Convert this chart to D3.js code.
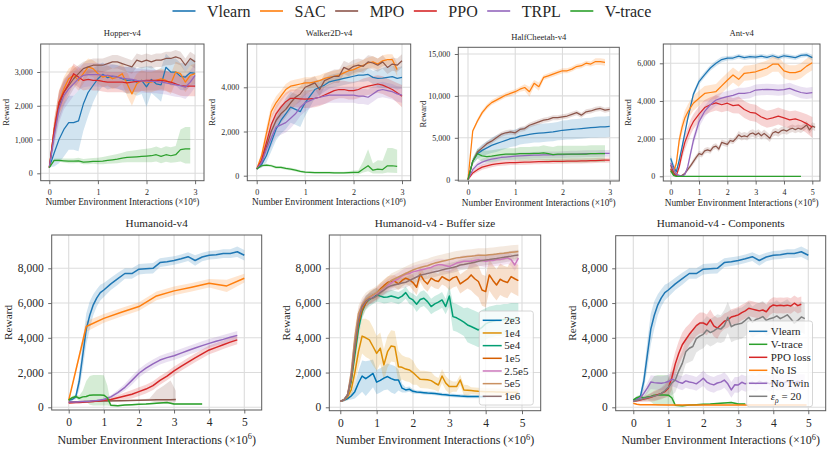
<!DOCTYPE html>
<html><head><meta charset="utf-8">
<script src="https://cdn.jsdelivr.net/npm/d3@7"></script>
<style>
body{margin:0;background:#fff}
svg{display:block}
</style>
</head><body>
<svg id="c" width="830" height="449" font-family="Liberation Serif, serif"></svg>
<script>
// ================= DATA =================
const topNames = ["Vlearn","SAC","MPO","PPO","TRPL","V-trace"];
const topColors = ["#1f77b4","#ff7f0e","#8c564b","#d62728","#9467bd","#2ca02c"];

const steps3M = [0,0.1,0.2,0.3,0.4,0.5,0.6,0.7,0.8,0.9,1,1.1,1.2,1.3,1.4,1.5,1.6,1.7,1.8,1.9,2,2.1,2.2,2.3,2.4,2.5,2.6,2.7,2.8,2.9,3];

// Hopper-v4
const hopperMean = {
  "Vlearn": [170,600,1000,1300,1500,1500,1550,2050,2400,2600,2800,2930,2830,2870,2860,2800,2750,2770,2700,2750,2560,2780,2650,2620,3140,3000,3000,2870,2850,2980,2960],
  "SAC":    [170,1300,2100,2500,2800,2900,2750,2950,3150,3100,2950,2850,2900,2800,2850,2950,2650,2350,2650,2750,2700,2700,2750,2800,2750,2650,3000,2950,2700,2900,2950],
  "MPO":    [170,1200,2000,2400,2600,2800,2950,3100,3150,3200,3200,3200,3250,3300,3300,3250,3200,3150,3350,3300,3350,3300,3350,3350,3400,3400,3450,3400,3200,3400,3300],
  "PPO":    [170,1300,2100,2400,2650,2950,2850,2750,2780,2750,2750,2720,2700,2700,2700,2700,2680,2700,2720,2740,2750,2750,2750,2750,2730,2700,2650,2600,2580,2580,2580],
  "TRPL":   [170,1100,1900,2300,2500,2650,2800,2900,2920,2920,2920,2900,2900,2880,2850,2820,2800,2780,2750,2740,2730,2720,2720,2700,2680,2650,2620,2600,2550,2700,2900],
  "V-trace":[170,380,380,370,360,360,370,330,340,350,350,360,380,400,420,450,470,480,490,500,510,520,550,500,550,520,550,700,720,720,null]
};
const hopperSpread = {
  "Vlearn": [0,400,700,800,800,800,900,800,700,500,400,350,350,350,350,350,400,400,400,400,600,400,400,500,400,400,400,400,400,400,400],
  "SAC":    [0,300,350,350,300,300,300,300,250,250,300,300,300,300,300,300,350,350,300,300,300,300,300,300,300,300,300,300,300,300,300],
  "MPO":    [0,300,400,400,350,300,250,200,200,200,200,200,200,200,200,200,200,200,200,200,200,200,200,200,200,200,200,200,200,200,200],
  "PPO":    [0,300,350,350,300,300,300,300,300,300,300,300,300,300,300,300,300,300,300,300,300,300,300,300,300,300,300,300,300,300,300],
  "TRPL":   [0,300,400,400,400,350,350,350,350,350,350,350,350,350,350,350,350,350,350,350,350,350,350,350,350,350,350,350,350,350,350],
  "V-trace":[0,60,60,70,80,80,90,90,100,100,110,120,130,140,150,160,180,190,200,210,220,230,240,240,250,250,260,600,650,650,null]
};
const hopperLow = {
  "V-trace":[0,40,40,50,60,60,60,60,70,70,80,90,100,110,120,130,140,150,160,170,180,190,200,200,210,210,220,350,430,430,null]
};

// Walker2D-v4
const walkerMean = {
  "Vlearn": [300,500,900,1500,2100,2500,2800,3100,3000,2900,3300,3600,3900,4000,4100,4250,4300,4350,4400,4450,4500,4550,4550,4580,4450,4400,4420,4450,4480,4400,4450],
  "SAC":    [300,900,1900,2900,3300,3600,3900,4050,4100,4150,4200,4200,4250,4300,4400,4450,4500,4550,4650,4750,4800,4900,5000,5100,5150,5050,5200,5250,5250,4800,null],
  "MPO":    [300,600,1300,2000,2500,2800,3000,3300,3550,3700,4000,4100,4200,3900,4300,4400,4500,4500,4900,4800,4950,5000,4950,5150,5100,5000,5150,4900,5050,5000,5200],
  "PPO":    [300,700,1500,2300,2800,3100,3350,3500,3500,3480,3460,3480,3500,3550,3650,3750,3850,3900,3900,3850,3850,3900,4000,4050,4100,4150,4100,4000,3900,3750,3600],
  "TRPL":   [300,600,1200,1700,2200,2300,2400,2600,2800,3100,3300,3400,3500,3550,3600,3650,3650,3650,3650,3650,3650,3600,3600,3550,3700,3850,3900,3850,3800,3700,3650],
  "V-trace":[300,450,480,450,380,380,330,300,250,200,160,150,140,140,140,140,130,130,130,140,150,150,300,450,250,300,280,450,450,420,null]
};
const walkerSpread = {
  "Vlearn": [0,150,300,400,500,600,700,700,700,700,600,500,400,350,300,300,300,300,300,300,300,300,300,300,300,400,450,500,500,500,500],
  "SAC":    [0,200,300,300,300,250,250,250,250,250,250,250,250,250,250,250,250,250,250,250,250,250,250,250,250,250,250,250,250,300,null],
  "MPO":    [0,200,300,400,400,400,350,350,350,350,350,300,300,300,300,300,300,300,300,300,300,300,300,300,300,300,300,300,300,300,300],
  "PPO":    [0,200,300,400,400,400,400,400,400,400,400,400,400,400,400,400,400,400,400,400,400,400,400,400,400,400,400,400,400,450,500],
  "TRPL":   [0,200,300,400,450,450,450,450,400,400,400,350,350,350,350,350,350,350,350,350,350,350,350,350,350,350,350,350,350,350,350],
  "V-trace":[0,60,60,60,60,60,60,60,60,60,50,50,50,50,50,50,50,50,50,60,80,100,350,750,300,400,400,800,800,750,null]
};
const walkerLow = {
  "V-trace":[0,60,60,60,60,60,60,60,60,60,50,50,50,50,50,50,50,50,50,60,80,100,150,250,150,200,180,300,320,300,null]
};

// HalfCheetah-v4
const cheetahMean = {
  "Vlearn": [0,2200,3100,3500,3800,4100,4300,4500,4700,4900,5000,5200,5300,5400,5500,5550,5600,5650,5700,5800,5900,5950,6000,6050,6100,6150,6200,6250,6300,6300,6350],
  "SAC":    [0,5800,7000,8000,8700,9200,9500,9800,10100,10300,10500,10800,11000,10500,11500,11100,12200,12400,12600,12800,13000,13000,13200,13500,13600,13900,13800,14100,14100,14000,null],
  "MPO":    [0,2200,3300,3800,4300,4600,5000,5400,5600,5700,5600,6000,6100,6500,6700,6900,7100,7200,7400,7400,7500,7600,7800,8000,7700,8100,8200,8400,8500,8300,8400],
  "PPO":    [0,800,1200,1500,1650,1800,1900,1950,2000,2050,2050,2070,2090,2110,2130,2150,2160,2170,2180,2190,2200,2210,2220,2230,2240,2250,2270,2290,2310,2330,2350],
  "TRPL":   [0,1200,1800,2100,2300,2450,2550,2650,2700,2750,2800,2850,2870,2900,2920,2940,2950,2960,2970,2980,3000,3020,3040,3060,3080,3100,3110,3120,3130,3140,3150],
  "V-trace":[0,2200,3100,2850,2750,2800,2900,3000,3050,3050,3050,3100,3100,3100,3150,3150,3200,3100,3000,3050,3050,3050,3050,3050,3050,3050,3100,3100,3100,3100,null]
};
const cheetahSpread = {
  "Vlearn": [0,400,600,700,800,900,1000,1000,1000,1000,1000,1000,1000,1050,1050,1100,1100,1100,1100,1100,1150,1150,1200,1200,1200,1200,1200,1250,1250,1250,1250],
  "SAC":    [0,200,300,300,300,300,300,300,300,300,300,300,400,600,400,500,300,300,300,300,300,300,300,300,300,300,300,400,400,400,null],
  "MPO":    [0,200,300,300,300,300,300,300,300,300,300,300,300,300,300,300,300,300,300,300,300,300,300,300,300,300,300,300,300,300,300],
  "PPO":    [0,250,300,300,300,300,300,300,300,300,300,300,300,300,300,300,300,300,300,300,300,300,300,300,300,300,300,300,300,300,300],
  "TRPL":   [0,300,350,400,400,400,400,400,400,400,400,400,400,400,400,400,400,400,400,400,400,400,400,400,400,400,400,400,400,400,400],
  "V-trace":[0,400,600,700,700,700,700,700,700,700,700,800,800,800,800,800,900,900,900,1000,1000,1000,1000,1000,1000,1000,1000,1000,1000,1000,null]
};

// Ant-v4
const antX = [0,0.1,0.2,0.3,0.4,0.5,0.6,0.7,0.8,1,1.2,1.4,1.6,1.8,2,2.2,2.4,2.6,2.8,3,3.2,3.4,3.6,3.8,4,4.2,4.4,4.6,4.8,5];
const antMpoX = [0,0.1,0.2,0.3,0.4,0.5,0.6,0.7,0.8,0.9,1,1.1,1.2,1.3,1.4,1.5,1.6,1.7,1.8,1.9,2,2.1,2.2,2.3,2.4,2.5,2.6,2.7,2.8,2.9,3,3.1,3.2,3.3,3.4,3.5,3.6,3.7,3.8,3.9,4,4.1,4.2,4.3,4.4,4.5,4.6,4.7,4.8,4.9,5,5.1];
const antMean = {
  "Vlearn": [950,500,250,850,1550,2300,3050,3700,4350,5030,5400,5750,6000,6200,6270,6280,6380,6300,6350,6330,6380,6320,6400,6300,6400,6350,6300,6420,6450,6300],
  "SAC":    [300,200,700,1900,2600,3100,3400,3650,3880,4140,4400,4450,4500,4800,5100,5380,5150,5470,5500,5550,5650,5750,5950,5950,5600,5500,5500,5600,5850,6030],
  "MPO":    [600,200,30,0,50,150,350,550,780,1000,1200,1150,1350,1400,1350,1550,1600,1450,1800,1750,1700,1900,1850,2000,2200,2100,2150,2100,2250,2300,2200,2300,2150,2280,2150,2020,2300,2370,2300,2420,2460,2400,2500,2550,2480,2550,2500,2600,2730,2460,2670,2600],
  "PPO":    [400,100,50,500,1200,1800,2200,2600,2900,3300,3650,3800,3900,3800,3880,3750,3790,3550,3400,3350,3150,3030,3100,3200,3100,3000,3050,2950,2800,2600],
  "TRPL":   [700,400,100,50,0,100,500,1200,1900,2900,3450,3800,4050,4150,4230,4300,4400,4400,4450,4580,4600,4620,4600,4580,4600,4670,4550,4450,4400,4440],
  "V-trace":[300,50,0,0,0,0,0,0,0,0,0,0,0,0,0,0,0,0,0,0,0,0,0,0,0,0,0,0,null,null]
};
const antSpread = {
  "Vlearn": [200,200,150,150,150,150,150,150,150,150,150,150,150,150,120,120,120,120,120,120,120,120,120,120,120,120,120,120,120,150],
  "SAC":    [100,100,200,300,350,400,400,400,400,400,400,400,400,400,400,400,400,400,400,400,400,400,400,400,400,400,400,400,400,400],
  "MPO":    [100,100,50,30,50,80,100,120,150,150,150,150,150,150,150,150,150,150,150,150,150,150,150,150,200,200,200,200,200,200,200,200,200,200,200,200,200,200,200,200,200,200,200,200,200,200,200,200,200,200,200,200],
  "PPO":    [200,100,50,200,300,400,400,400,400,400,400,400,400,400,400,400,450,450,450,450,450,450,450,450,450,450,450,450,500,550],
  "TRPL":   [100,100,50,30,30,50,150,200,250,300,300,300,300,300,300,300,300,300,300,300,300,300,300,300,300,300,300,300,300,300],
  "V-trace":[100,30,10,10,10,10,10,10,10,10,10,10,10,10,10,10,10,10,10,10,10,10,10,10,10,10,10,10,null,null]
};

// Humanoid-v4
const humX = [0,0.1,0.2,0.3,0.4,0.5,0.6,0.7,0.8,0.9,1,1.2,1.4,1.6,1.8,2,2.2,2.4,2.6,2.8,3,3.2,3.4,3.6,3.8,4,4.2,4.4,4.6,4.8,5];
const humVlearn = [400,450,600,1500,3000,4500,5300,5900,6300,6600,6750,7100,7400,7700,7700,7950,7980,8000,8330,8380,8450,8550,8670,8450,8650,8750,8780,8850,8850,8950,8750];
const humVlearnSd = [0,50,150,500,800,900,800,600,500,450,400,350,350,300,300,300,300,300,250,250,250,250,250,300,250,250,250,250,250,300,300];
const humTrpl = [300,305,310,320,330,340,350,370,390,420,450,600,850,1150,1550,1960,2250,2500,2720,2860,2970,3120,3270,3410,3550,3680,3800,3910,4030,4140,null];
const humTrplSd = [50,50,50,50,50,50,50,50,50,60,80,100,150,200,250,250,250,250,250,250,250,250,250,250,250,250,250,250,250,250,null];
const humPpo = [250,260,270,280,290,300,320,340,360,380,400,450,550,650,750,900,1050,1250,1550,1800,2100,2350,2600,2850,3080,3300,3450,3600,3750,3880,null];
const humPpoSd = [50,50,50,50,50,50,50,50,50,60,80,100,150,200,250,250,250,250,250,250,250,250,250,250,250,250,250,250,250,250,null];
const humSacX = [0,0.5,1,1.5,2,2.5,3,3.5,4,4.5,5];
const humSac = [400,4650,5120,5470,5800,6410,6700,6910,7140,6985,7430];
const humSacSd = [50,300,250,250,250,250,250,250,250,350,250];
const humMpoX = [0,0.5,1,1.5,2,2.3,2.5,2.7,2.9,3.05];
const humMpo = [300,330,360,380,400,420,430,440,440,450];
const humMpoHi = [30,30,30,30,30,80,550,800,1100,500];
const humMpoLo = [30,30,30,30,30,50,150,200,200,150];
const humVtraceX = [0,0.1,0.2,0.3,0.4,0.5,0.6,0.7,0.8,0.9,1,1.1,1.2,1.4,1.6,1.8,2,2.2,2.4,2.6,2.8,3,3.2,3.4,3.6,3.8];
const humVtrace = [420,550,620,520,600,620,700,710,710,710,700,550,120,90,130,150,170,190,220,250,270,190,190,190,190,190];
const humVtraceHi = [50,100,100,150,350,900,1100,1150,1150,1150,1150,700,60,40,40,40,40,40,40,40,50,40,40,40,40,40];
const humVtraceLo = [50,100,100,150,200,300,550,600,600,600,600,450,60,40,40,40,40,40,40,40,50,40,40,40,40,40];

// Humanoid-v4 - Buffer size
const bufNames = ["2e3","1e4","5e4","1e5","2.5e5","5e5","1e6"];
const bufColors = ["#0173b2","#de8f05","#029e73","#d55e00","#cc78bc","#ca9161","#8f7172"];
const bufX = [0,0.1,0.2,0.3,0.4,0.5,0.6,0.7,0.8,0.9,1,1.1,1.2,1.3,1.4,1.5,1.6,1.7,1.8,1.9,2,2.1,2.2,2.3,2.4,2.5,2.6,2.7,2.8,2.9,3,3.1,3.2,3.3,3.4,3.5,3.6,3.7,3.8,3.9,4,4.1,4.2,4.3,4.4,4.5,4.6,4.7,4.8,4.9];
const bufMean = {
  "2e3":  [350,400,500,650,900,1400,1800,1650,1800,1950,1450,1550,1680,1770,1650,1570,1570,1100,1000,1040,920,880,860,840,820,805,790,770,740,720,690,680,670,650,640,620,620,615,615,610,615,null,null,null,null,null,null,null,null,null],
  "1e4":  [350,420,600,1000,2000,3200,4100,4000,3880,3500,3100,3400,2440,3200,3530,3490,2340,2300,2200,2150,2000,1800,1610,1600,1580,1535,1400,1285,1800,1400,1190,1190,1190,1570,1000,980,960,940,920,910,900,900,890,880,880,870,870,860,860,850],
  "5e4":  [350,420,700,1500,3000,4500,5500,6000,6200,6350,6470,6400,6330,6350,6410,6350,6280,6400,6600,6300,6180,5930,6200,6280,6080,5800,5950,6050,6180,5800,6410,5220,5150,5030,4900,4740,4650,4550,4450,4600,4800,4900,4950,5000,5000,5050,5050,5100,5100,5100],
  "1e5":  [350,420,700,1600,3300,4800,5600,6000,6300,6450,6550,6800,7000,7180,7250,7250,7100,7300,7430,7350,7180,6910,7660,7300,7100,7430,7300,7240,7520,7400,7290,7450,7520,7100,7250,7390,7620,7400,7240,6750,6660,7620,7300,7040,7370,7250,7180,7520,7400,7290],
  "2.5e5":[350,420,700,1800,3800,5200,5800,6100,6250,6400,6550,6700,6850,7000,7150,7300,7400,7550,7650,7700,7800,7850,7900,7950,8000,8050,8150,8200,8200,8150,8100,8200,8300,8350,8400,8400,8400,8450,8500,8450,8400,8450,8450,8500,8500,8550,8600,8500,8190,8580],
  "5e5":  [350,420,700,2000,4000,5400,5900,6200,6350,6450,6600,6750,6900,7100,7300,7400,7500,7600,7700,7800,7900,7980,8050,8100,8150,8230,8300,8350,8400,8450,8500,8550,8600,8620,8650,8680,8700,8720,8750,8750,8750,8780,8800,8820,8850,8870,8900,8920,8940,8960],
  "1e6":  [350,420,700,1700,3500,5000,5800,6100,6250,6280,6400,6600,6750,6900,7000,7050,7100,7150,7200,7300,7400,7500,7600,7650,7700,7750,7800,7850,7910,7960,8000,8050,8100,8190,8220,8260,8300,8350,8400,8450,8480,8500,8530,8560,8600,8630,8670,8700,8740,8770]
};
const bufSpread = {
  "2e3":  [30,60,100,200,400,700,900,1000,900,800,700,700,700,750,800,800,600,250,150,150,120,100,100,100,100,100,100,100,100,100,100,100,100,100,100,100,100,100,100,100,100,null,null,null,null,null,null,null,null,null],
  "1e4":  [30,80,200,400,700,900,1000,1100,1100,1100,1000,900,900,900,900,900,900,700,700,700,700,500,500,500,500,500,400,400,400,400,400,300,300,300,300,300,200,200,200,200,200,200,200,200,200,200,200,200,200,200],
  "5e4":  [30,60,150,300,450,500,400,400,400,400,400,350,350,350,350,350,350,350,350,350,350,450,450,450,450,450,450,450,450,450,600,800,800,800,800,1000,1000,1000,1000,1000,900,900,900,900,900,900,900,900,900,900],
  "1e5":  [30,60,150,350,500,500,400,350,350,350,350,350,350,350,350,350,350,350,350,350,450,450,450,450,450,450,450,450,450,450,550,550,550,550,550,550,900,900,900,900,900,900,900,900,900,900,900,900,900,900],
  "2.5e5":[30,60,150,400,500,450,350,350,350,350,350,350,350,350,350,350,350,350,350,350,350,350,350,350,350,350,350,350,350,350,350,350,350,350,350,350,350,350,350,350,350,350,350,350,350,350,350,350,350,350],
  "5e5":  [30,60,150,450,550,450,400,400,400,400,400,400,400,400,400,400,400,400,400,400,400,400,400,400,400,400,400,400,400,400,400,400,400,400,400,400,400,400,400,400,400,400,400,400,400,400,400,400,400,400],
  "1e6":  [30,60,150,400,500,450,300,300,300,300,300,300,300,300,300,300,300,300,300,300,300,300,300,300,300,300,300,300,300,300,300,300,300,300,300,300,300,300,300,300,300,300,300,300,300,300,300,300,300,300]
};

// Humanoid-v4 - Components
const compNames = ["Vlearn","V-trace","PPO loss","No IS","No Twin","eps"];
const compColors = ["#1f77b4","#2ca02c","#d62728","#ff7f0e","#9467bd","#7f7f7f"];
const compX = bufX;
const compPpo = [350,380,420,470,520,580,650,720,800,900,1100,1700,2500,3110,3600,3900,4200,4450,4700,4850,4850,4740,5030,4680,4550,4750,4950,5030,5200,5250,5320,5450,5550,5700,5650,5600,5550,5600,5500,5760,5890,5850,5870,5850,5880,5830,5990,5850,5930,null];
const compPpoSd = [30,80,120,150,200,250,300,300,300,350,500,700,700,700,700,700,600,600,600,600,600,600,600,600,600,450,450,450,450,450,450,450,450,450,450,450,450,450,450,450,450,450,450,450,450,450,450,450,450,null];
const compNoTwin = [350,420,550,800,1100,1450,1420,1400,1380,1420,1480,1610,1550,1450,1380,1520,1460,1420,1350,1500,1670,1450,1350,1290,1400,1450,1570,1350,1000,1300,1290,1440,1350,1400,1450,1350,1500,1400,1450,1350,1500,1400,1450,1400,1500,1450,1400,1500,1450,1450];
const compNoTwinSd = [30,80,150,250,300,400,400,400,400,400,400,400,400,400,400,400,400,400,400,400,450,450,450,450,450,450,450,450,450,450,450,450,450,450,450,450,450,450,450,450,450,450,450,450,450,450,450,450,450,450];
const compEps = [350,400,450,500,550,600,650,700,800,950,1150,1400,1570,2100,2530,3200,3400,3500,3950,4100,4200,4450,4300,4400,4550,4500,4700,5180,4640,4750,4800,4840,5000,5180,4900,5050,5120,5220,5000,5100,5150,5260,5100,5200,5320,5100,4840,5000,5200,5100];
const compEpsSd = [30,60,100,120,150,200,250,300,350,400,500,700,700,700,700,700,800,800,800,800,800,800,800,800,800,800,900,900,900,900,900,900,900,900,900,900,900,900,900,900,900,900,900,900,900,900,900,900,900,900];
const noIsX = [0,0.1,0.2,0.5,1,2,3,4,4.95];
const noIs = [230,180,150,140,130,130,130,130,130];
const noIsSd = [30,30,20,20,20,20,20,20,20];

// ================= RENDER =================
const FONT = "Liberation Serif, serif";
const TXT = "#262626";
const svg = d3.select("#c");
const fmt = d3.format(",");

function mk(name, color, xs, ys, hi, lo, xmax) {
  const pts = [];
  xs.forEach((x, i) => {
    if (ys[i] == null) return;
    if (xmax != null && x > xmax) return;
    const h = hi[i], l = lo ? lo[i] : hi[i];
    pts.push({x, y: ys[i], lo: ys[i] - l, hi: ys[i] + h});
  });
  return {name, color, pts};
}

function txt(sel) {
  return sel.append("text").attr("font-family", FONT).attr("fill", TXT);
}

const SMALL = {tick: 8, title: 8.6, label: 9.3, reward: 8.6, lw: 1.25, rwOff: 35, labOff: 24.5};
const BIG   = {tick: 11.5, title: 11.2, label: 12, reward: 11.3, lw: 1.5, rwOff: 43.5, labOff: 33.5};

function topSeries(mean, spread, low, xs, special) {
  return topNames.map((n, i) => {
    if (special && special[n]) return special[n];
    return mk(n, topColors[i], xs, mean[n], spread[n], low && low[n]);
  });
}

const panels = [
  {title:"Hopper-v4", frame:[40.7,44,204,180.7], xr:[49.3,195.1], xd:[0,3], yr:[173.3,72], yd:[0,3000],
   xt:[0,1,2,3], yt:[0,1000,2000,3000], titleY:35.5, st:SMALL,
   series: topSeries(hopperMean, hopperSpread, hopperLow, steps3M)},
  {title:"Walker2D-v4", frame:[247.3,44,410.7,180.7], xr:[256.7,402], xd:[0,3], yr:[175.7,87.3], yd:[0,4000],
   xt:[0,1,2,3], yt:[0,2000,4000], titleY:36, st:SMALL,
   series: topSeries(walkerMean, walkerSpread, walkerLow, steps3M)},
  {title:"HalfCheetah-v4", frame:[458.3,47.3,619.3,181], xr:[468,609.7], xd:[0,3], yr:[179.7,54], yd:[0,15000],
   xt:[0,1,2,3], yt:[0,5000,10000,15000], titleY:40, st:SMALL,
   series: topSeries(cheetahMean, cheetahSpread, null, steps3M)},
  {title:"Ant-v4", frame:[663.3,44,820,181], xr:[670.7,812.3], xd:[0,5], yr:[176.3,63.3], yd:[0,6000],
   xt:[0,1,2,3,4,5], yt:[0,2000,4000,6000], titleY:36, st:SMALL,
   series: topSeries(antMean, antSpread, null, antX, {"MPO": mk("MPO", topColors[2], antMpoX, antMean["MPO"], antSpread["MPO"])})},
  {title:"Humanoid-v4", frame:[51.7,235,261.7,410], xr:[68.7,244.3], xd:[0,5], yr:[407.3,268.3], yd:[0,8000],
   xt:[0,1,2,3,4,5], yt:[0,2000,4000,6000,8000], titleY:227, st:BIG,
   series: [
     mk("Vlearn", topColors[0], humX, humVlearn, humVlearnSd),
     mk("SAC", topColors[1], humSacX, humSac, humSacSd),
     mk("MPO", topColors[2], humMpoX, humMpo, humMpoHi, humMpoLo),
     mk("PPO", topColors[3], humX, humPpo, humPpoSd),
     mk("TRPL", topColors[4], humX, humTrpl, humTrplSd),
     mk("V-trace", topColors[5], humVtraceX, humVtrace, humVtraceHi, humVtraceLo)
   ]},
  {title:"Humanoid-v4 - Buffer size", frame:[329.3,235,540.7,410.7], xr:[340.3,522], xd:[0,5], yr:[407.3,268.3], yd:[0,8000],
   xt:[0,1,2,3,4,5], yt:[0,2000,4000,6000,8000], titleY:227, st:BIG,
   series: bufNames.map((n,i) => mk(n, bufColors[i], bufX, bufMean[n], bufSpread[n])),
   legend: {box:[479.3,311,533.3,405], first:320.3, step:12.67, lineX:[482.7,501.7], textX:504.3}},
  {title:"Humanoid-v4 - Components", frame:[615.7,235.7,825.7,410.7], xr:[633.3,808.3], xd:[0,5], yr:[407.3,268.3], yd:[0,8000],
   xt:[0,1,2,3,4,5], yt:[0,2000,4000,6000,8000], titleY:227, st:BIG,
   series: [
     mk(compNames[0], compColors[0], humX, humVlearn, humVlearnSd),
     mk(compNames[1], compColors[1], humVtraceX, humVtrace, humVtraceHi, humVtraceLo, 3.2),
     mk(compNames[2], compColors[2], compX, compPpo, compPpoSd),
     mk(compNames[3], compColors[3], noIsX, noIs, noIsSd),
     mk(compNames[4], compColors[4], compX, compNoTwin, compNoTwinSd),
     mk(compNames[5], compColors[5], compX, compEps, compEpsSd)
   ],
   legend: {box:[746.7,321,812.5,406.7], first:331.3, step:13, lineX:[749,767.3], textX:770.7}}
];

panels.forEach((p, pi) => {
  const st = p.st;
  const [fx0, fy0, fx1, fy1] = p.frame;
  const x = d3.scaleLinear().domain(p.xd).range(p.xr);
  const y = d3.scaleLinear().domain(p.yd).range(p.yr);
  const g = svg.append("g");
  const cid = "clip" + pi;
  svg.append("clipPath").attr("id", cid).append("rect")
    .attr("x", fx0).attr("y", fy0).attr("width", fx1 - fx0).attr("height", fy1 - fy0);

  // grid
  const grid = g.append("g").attr("clip-path", `url(#${cid})`);
  p.xt.forEach(t => grid.append("line").attr("x1", x(t)).attr("x2", x(t)).attr("y1", fy0).attr("y2", fy1)
    .attr("stroke", "#dcdcdc").attr("stroke-width", 1.1));
  p.yt.forEach(t => grid.append("line").attr("y1", y(t)).attr("y2", y(t)).attr("x1", fx0).attr("x2", fx1)
    .attr("stroke", "#dcdcdc").attr("stroke-width", 1.1));

  // series
  const plot = g.append("g").attr("clip-path", `url(#${cid})`);
  const area = d3.area().x(d => x(d.x)).y0(d => y(d.lo)).y1(d => y(d.hi));
  const line = d3.line().x(d => x(d.x)).y(d => y(d.y));
  p.series.forEach(s => {
    plot.append("path").datum(s.pts).attr("d", area).attr("fill", s.color).attr("fill-opacity", 0.2).attr("stroke", "none");
  });
  p.series.forEach(s => {
    plot.append("path").datum(s.pts).attr("d", line).attr("fill", "none").attr("stroke", s.color)
      .attr("stroke-width", st.lw).attr("stroke-linejoin", "round");
  });

  // frame
  g.append("rect").attr("x", fx0).attr("y", fy0).attr("width", fx1 - fx0).attr("height", fy1 - fy0)
    .attr("fill", "none").attr("stroke", "#5a5a5a").attr("stroke-width", 1);

  // axes
  const ax = g.append("g").attr("transform", `translate(0,${fy1})`)
    .call(d3.axisBottom(x).tickValues(p.xt).tickSize(3.5).tickPadding(4.7).tickFormat(d3.format("d")));
  const ay = g.append("g").attr("transform", `translate(${fx0},0)`)
    .call(d3.axisLeft(y).tickValues(p.yt).tickSize(3.5).tickPadding(4.5).tickFormat(fmt));
  [ax, ay].forEach(a => {
    a.attr("font-family", FONT).attr("font-size", st.tick);
    a.select(".domain").remove();
    a.selectAll(".tick line").attr("stroke", "#5a5a5a").attr("stroke-width", 0.9);
    a.selectAll(".tick text").attr("font-size", st.tick).attr("font-family", FONT).attr("fill", TXT);
  });

  // title
  txt(g).attr("x", (fx0 + fx1) / 2).attr("y", p.titleY).attr("text-anchor", "middle")
    .attr("font-size", st.title).text(p.title);

  // x label
  const lab = txt(g).attr("x", (fx0 + fx1) / 2)
    .attr("y", fy1 + st.labOff).attr("text-anchor", "middle").attr("font-size", st.label);
  lab.append("tspan").text("Number Environment Interactions (×10");
  lab.append("tspan").attr("font-size", st.label * 0.7).attr("dy", -st.label * 0.38).text("6");
  lab.append("tspan").attr("dy", st.label * 0.38).text(")");

  // y label
  const cx = fx0 - st.rwOff, cy = (fy0 + fy1) / 2;
  txt(g).attr("transform", `translate(${cx + st.reward * 0.33},${cy}) rotate(-90)`)
    .attr("text-anchor", "middle").attr("font-size", st.reward).text("Reward");

  // legend inside panel
  if (p.legend) {
    const L = p.legend;
    const lg = g.append("g");
    lg.append("rect").attr("x", L.box[0]).attr("y", L.box[1]).attr("width", L.box[2] - L.box[0])
      .attr("height", L.box[3] - L.box[1]).attr("rx", 2.5)
      .attr("fill", "#fff").attr("fill-opacity", 0.8).attr("stroke", "#cccccc").attr("stroke-width", 0.8);
    p.series.forEach((s, i) => {
      const yy = L.first + i * L.step;
      lg.append("line").attr("x1", L.lineX[0]).attr("x2", L.lineX[1]).attr("y1", yy).attr("y2", yy)
        .attr("stroke", s.color).attr("stroke-width", 1.5);
      const t = txt(lg).attr("x", L.textX).attr("y", yy + 3.8).attr("font-size", 11);
      if (s.name === "eps") {
        t.append("tspan").attr("font-style", "italic").text("ε");
        t.append("tspan").attr("font-size", 7.5).attr("font-style", "italic").attr("dy", 2.5).text("ρ");
        t.append("tspan").attr("dy", -2.5).text(" = 20");
      } else {
        t.text(s.name);
      }
    });
  }
});

// ===== top legend =====
const leg = svg.append("g");
let cur = 0;
topNames.forEach((n, i) => {
  const gi = leg.append("g");
  gi.append("line").attr("x1", cur).attr("x2", cur + 23).attr("y1", 11).attr("y2", 11)
    .attr("stroke", topColors[i]).attr("stroke-width", 1.6);
  const t = txt(gi).attr("x", cur + 34.5).attr("y", 16.5).attr("font-size", 16).text(n);
  const w = t.node().getComputedTextLength();
  cur += 34.5 + w + 9.5;
});
const total = cur - 9.5;
leg.attr("transform", `translate(${411.9 - total / 2},0)`);
</script>
</body></html>
